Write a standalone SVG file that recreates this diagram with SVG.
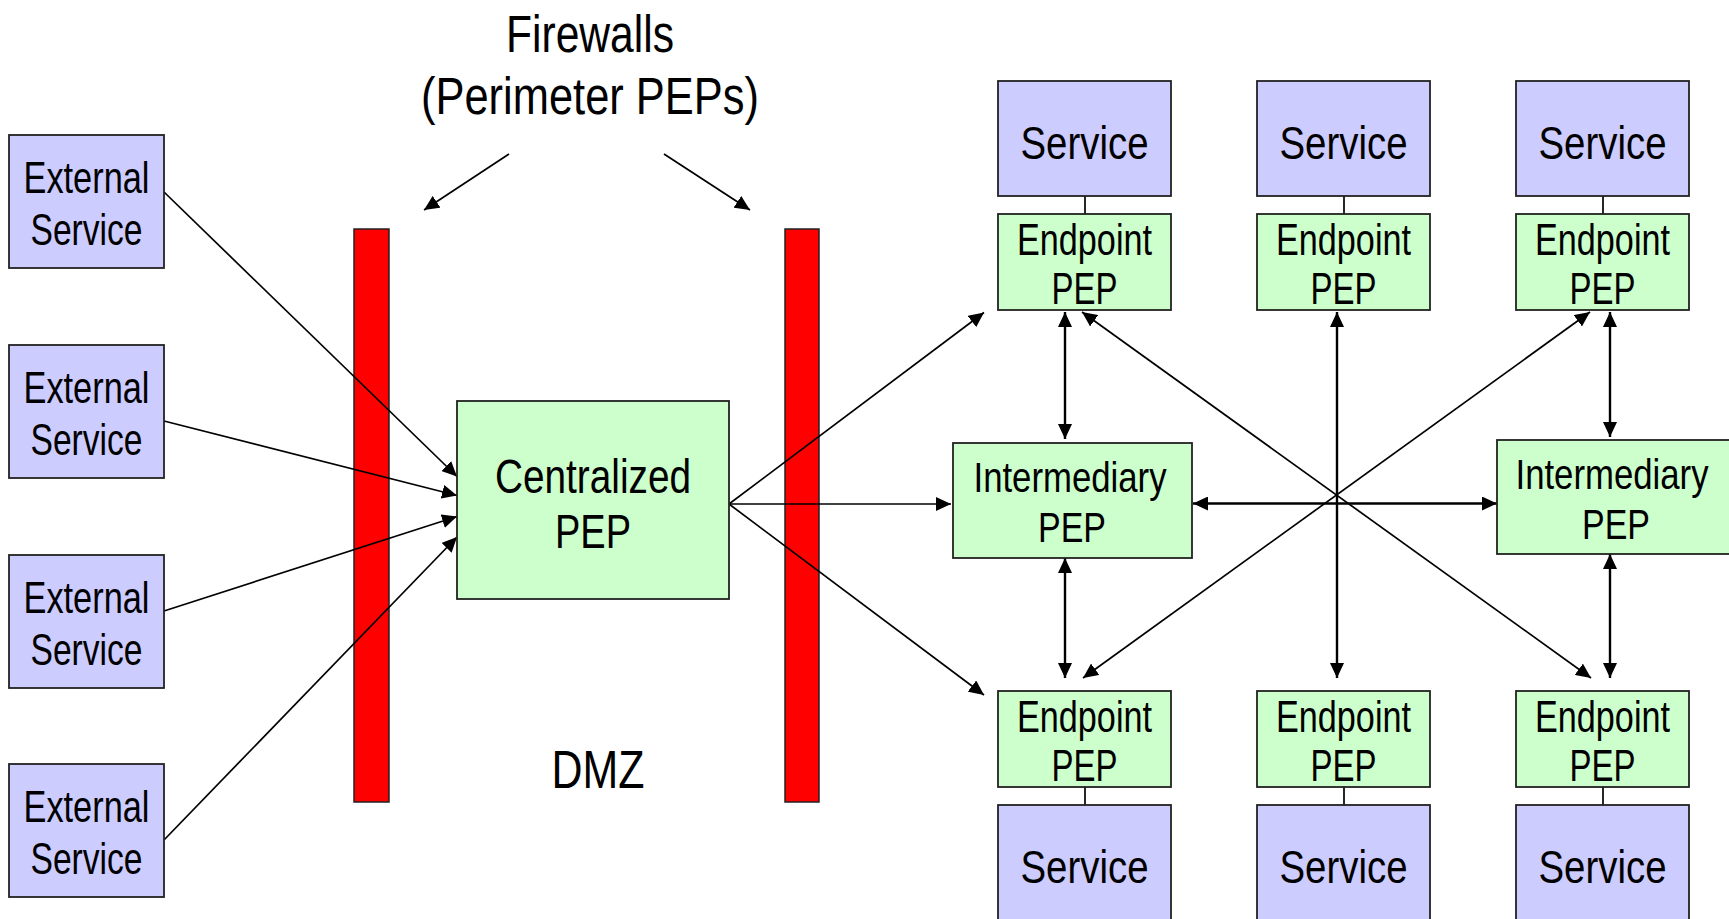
<svg xmlns="http://www.w3.org/2000/svg" width="1729" height="919" viewBox="0 0 1729 919">
  <style>
    .svc { fill: #ccccff; stroke: #222; stroke-width: 1.8; }
    .pep { fill: #ccffcc; stroke: #222; stroke-width: 1.8; }
    .wall { fill: #ff0000; stroke: #222; stroke-width: 1.5; }
    .lbl { font-family: "Liberation Sans", Arial, sans-serif; fill: #000; text-anchor: middle; }
    .link { stroke: #000; stroke-width: 2.4; fill: none; }
    .thin { stroke: #000; stroke-width: 1.7; fill: none; }
    .arr { marker-end: url(#head); }
    .dbl { marker-start: url(#head); marker-end: url(#head); }
  </style>
  <defs>
    <marker id="head" markerUnits="userSpaceOnUse" markerWidth="16" markerHeight="14" refX="15" refY="7" orient="auto-start-reverse">
      <path d="M0,0 L15,7 L0,14 z" fill="#000"/>
    </marker>
  </defs>
  <rect width="1729" height="919" fill="#fff"/>

  <!-- firewall bars -->
  <g id="firewall-outer">
    <rect class="wall" x="354" y="229" width="35" height="573"/>
  </g>
  <g id="firewall-inner">
    <rect class="wall" x="785" y="229" width="34" height="573"/>
  </g>

  <!-- title -->
  <g id="title">
    <text class="lbl" x="590" y="52" font-size="51" textLength="168" lengthAdjust="spacingAndGlyphs">Firewalls</text>
    <text class="lbl" x="590" y="114" font-size="51" textLength="338" lengthAdjust="spacingAndGlyphs">(Perimeter PEPs)</text>
  </g>
  <g id="dmz">
    <text class="lbl" x="598" y="788" font-size="53" textLength="93" lengthAdjust="spacingAndGlyphs">DMZ</text>
  </g>

  <!-- connectors -->
  <g id="connectors">
    <line class="thin arr" x1="509" y1="154" x2="424" y2="210"/>
    <line class="thin arr" x1="664" y1="154" x2="750" y2="210"/>

    <line class="thin arr" x1="164" y1="192" x2="457" y2="476.5"/>
    <line class="thin arr" x1="164" y1="421" x2="457" y2="495.5"/>
    <line class="thin arr" x1="164" y1="611" x2="457" y2="516.5"/>
    <line class="thin arr" x1="164" y1="840" x2="457" y2="537"/>

    <line class="thin arr" x1="729" y1="504" x2="984" y2="312.5"/>
    <line class="thin arr" x1="729" y1="504" x2="951" y2="504"/>
    <line class="thin arr" x1="729" y1="504" x2="984" y2="695"/>

    <line class="link dbl" x1="1065" y1="312" x2="1065" y2="439"/>
    <line class="link dbl" x1="1065" y1="558" x2="1065" y2="678"/>
    <line class="link dbl" x1="1610" y1="312" x2="1610" y2="437"/>
    <line class="link dbl" x1="1610" y1="554" x2="1610" y2="678"/>
    <line class="link dbl" x1="1337" y1="312" x2="1337" y2="678"/>
    <line class="link dbl" x1="1193" y1="503.5" x2="1497" y2="503.5"/>
    <line class="thin dbl" x1="1082" y1="312" x2="1591" y2="678"/>
    <line class="thin dbl" x1="1590" y1="312" x2="1083" y2="678"/>

    <line class="thin" x1="1085" y1="196" x2="1085" y2="214"/>
    <line class="thin" x1="1344" y1="196" x2="1344" y2="214"/>
    <line class="thin" x1="1603" y1="196" x2="1603" y2="214"/>
    <line class="thin" x1="1085" y1="787" x2="1085" y2="805"/>
    <line class="thin" x1="1344" y1="787" x2="1344" y2="805"/>
    <line class="thin" x1="1603" y1="787" x2="1603" y2="805"/>
  </g>

  <!-- external services -->
  <g id="ext-1">
    <rect class="svc" x="9" y="135" width="155" height="133"/>
    <text class="lbl" x="86.5" y="193" font-size="44" textLength="126" lengthAdjust="spacingAndGlyphs">External</text>
    <text class="lbl" x="86.5" y="245" font-size="44" textLength="112" lengthAdjust="spacingAndGlyphs">Service</text>
  </g>
  <g id="ext-2">
    <rect class="svc" x="9" y="345" width="155" height="133"/>
    <text class="lbl" x="86.5" y="403" font-size="44" textLength="126" lengthAdjust="spacingAndGlyphs">External</text>
    <text class="lbl" x="86.5" y="455" font-size="44" textLength="112" lengthAdjust="spacingAndGlyphs">Service</text>
  </g>
  <g id="ext-3">
    <rect class="svc" x="9" y="555" width="155" height="133"/>
    <text class="lbl" x="86.5" y="613" font-size="44" textLength="126" lengthAdjust="spacingAndGlyphs">External</text>
    <text class="lbl" x="86.5" y="665" font-size="44" textLength="112" lengthAdjust="spacingAndGlyphs">Service</text>
  </g>
  <g id="ext-4">
    <rect class="svc" x="9" y="764" width="155" height="133"/>
    <text class="lbl" x="86.5" y="822" font-size="44" textLength="126" lengthAdjust="spacingAndGlyphs">External</text>
    <text class="lbl" x="86.5" y="874" font-size="44" textLength="112" lengthAdjust="spacingAndGlyphs">Service</text>
  </g>

  <!-- centralized PEP -->
  <g id="central-pep">
    <rect class="pep" x="457" y="401" width="272" height="198"/>
    <text class="lbl" x="593" y="493" font-size="48" textLength="196" lengthAdjust="spacingAndGlyphs">Centralized</text>
    <text class="lbl" x="593" y="548" font-size="48" textLength="76" lengthAdjust="spacingAndGlyphs">PEP</text>
  </g>

  <!-- top row: services and their endpoint PEPs -->
  <g id="svc-top-1">
    <rect class="svc" x="998" y="81" width="173" height="115"/>
    <text class="lbl" x="1084.5" y="159" font-size="47" textLength="128" lengthAdjust="spacingAndGlyphs">Service</text>
  </g>
  <g id="svc-top-2">
    <rect class="svc" x="1257" y="81" width="173" height="115"/>
    <text class="lbl" x="1343.5" y="159" font-size="47" textLength="128" lengthAdjust="spacingAndGlyphs">Service</text>
  </g>
  <g id="svc-top-3">
    <rect class="svc" x="1516" y="81" width="173" height="115"/>
    <text class="lbl" x="1602.5" y="159" font-size="47" textLength="128" lengthAdjust="spacingAndGlyphs">Service</text>
  </g>
  <g id="ep-top-1">
    <rect class="pep" x="998" y="214" width="173" height="96"/>
    <text class="lbl" x="1084.5" y="255" font-size="44" textLength="135" lengthAdjust="spacingAndGlyphs">Endpoint</text>
    <text class="lbl" x="1084.5" y="304" font-size="44" textLength="66" lengthAdjust="spacingAndGlyphs">PEP</text>
  </g>
  <g id="ep-top-2">
    <rect class="pep" x="1257" y="214" width="173" height="96"/>
    <text class="lbl" x="1343.5" y="255" font-size="44" textLength="135" lengthAdjust="spacingAndGlyphs">Endpoint</text>
    <text class="lbl" x="1343.5" y="304" font-size="44" textLength="66" lengthAdjust="spacingAndGlyphs">PEP</text>
  </g>
  <g id="ep-top-3">
    <rect class="pep" x="1516" y="214" width="173" height="96"/>
    <text class="lbl" x="1602.5" y="255" font-size="44" textLength="135" lengthAdjust="spacingAndGlyphs">Endpoint</text>
    <text class="lbl" x="1602.5" y="304" font-size="44" textLength="66" lengthAdjust="spacingAndGlyphs">PEP</text>
  </g>

  <!-- intermediary PEPs -->
  <g id="int-left">
    <rect class="pep" x="953" y="443" width="239" height="115"/>
    <text class="lbl" x="1070" y="492" font-size="43" textLength="193" lengthAdjust="spacingAndGlyphs">Intermediary</text>
    <text class="lbl" x="1072" y="542" font-size="43" textLength="68" lengthAdjust="spacingAndGlyphs">PEP</text>
  </g>
  <g id="int-right">
    <rect class="pep" x="1497" y="440" width="240" height="114"/>
    <text class="lbl" x="1612" y="489" font-size="43" textLength="193" lengthAdjust="spacingAndGlyphs">Intermediary</text>
    <text class="lbl" x="1616" y="539" font-size="43" textLength="68" lengthAdjust="spacingAndGlyphs">PEP</text>
  </g>

  <!-- bottom row: endpoint PEPs and services -->
  <g id="ep-bot-1">
    <rect class="pep" x="998" y="691" width="173" height="96"/>
    <text class="lbl" x="1084.5" y="732" font-size="44" textLength="135" lengthAdjust="spacingAndGlyphs">Endpoint</text>
    <text class="lbl" x="1084.5" y="781" font-size="44" textLength="66" lengthAdjust="spacingAndGlyphs">PEP</text>
  </g>
  <g id="ep-bot-2">
    <rect class="pep" x="1257" y="691" width="173" height="96"/>
    <text class="lbl" x="1343.5" y="732" font-size="44" textLength="135" lengthAdjust="spacingAndGlyphs">Endpoint</text>
    <text class="lbl" x="1343.5" y="781" font-size="44" textLength="66" lengthAdjust="spacingAndGlyphs">PEP</text>
  </g>
  <g id="ep-bot-3">
    <rect class="pep" x="1516" y="691" width="173" height="96"/>
    <text class="lbl" x="1602.5" y="732" font-size="44" textLength="135" lengthAdjust="spacingAndGlyphs">Endpoint</text>
    <text class="lbl" x="1602.5" y="781" font-size="44" textLength="66" lengthAdjust="spacingAndGlyphs">PEP</text>
  </g>
  <g id="svc-bot-1">
    <rect class="svc" x="998" y="805" width="173" height="125"/>
    <text class="lbl" x="1084.5" y="883" font-size="47" textLength="128" lengthAdjust="spacingAndGlyphs">Service</text>
  </g>
  <g id="svc-bot-2">
    <rect class="svc" x="1257" y="805" width="173" height="125"/>
    <text class="lbl" x="1343.5" y="883" font-size="47" textLength="128" lengthAdjust="spacingAndGlyphs">Service</text>
  </g>
  <g id="svc-bot-3">
    <rect class="svc" x="1516" y="805" width="173" height="125"/>
    <text class="lbl" x="1602.5" y="883" font-size="47" textLength="128" lengthAdjust="spacingAndGlyphs">Service</text>
  </g>
</svg>
